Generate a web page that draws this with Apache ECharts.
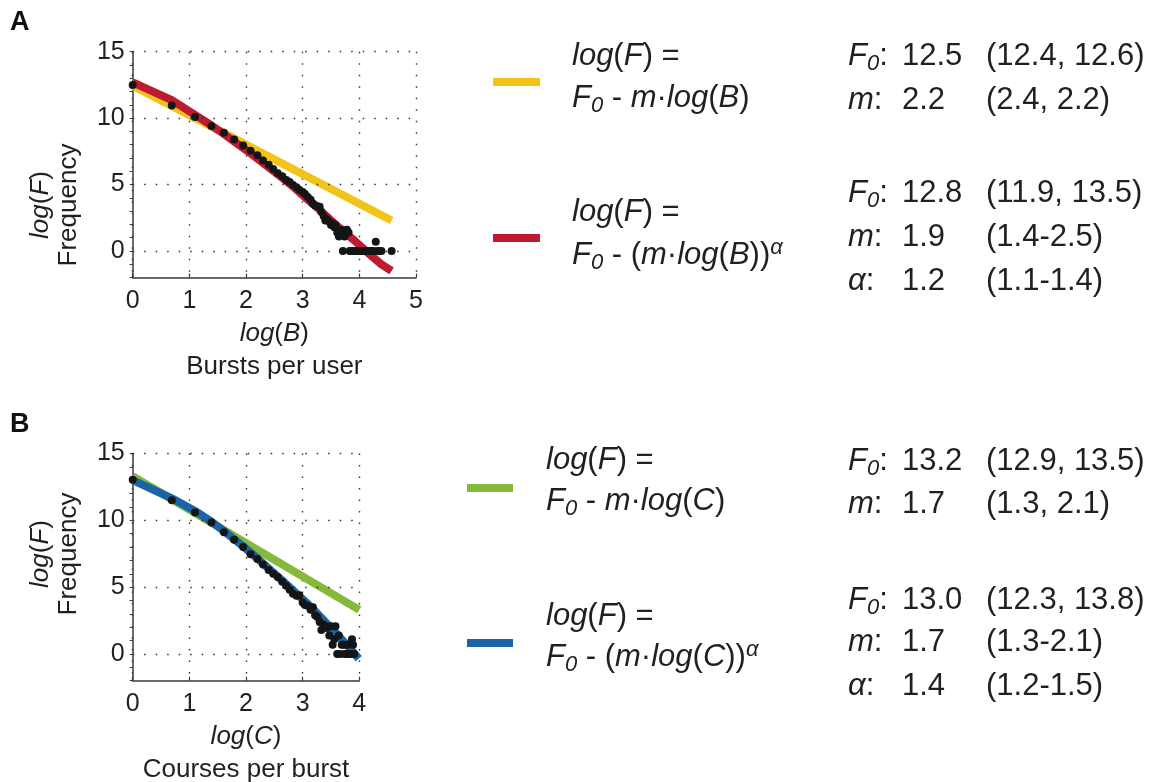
<!DOCTYPE html>
<html><head><meta charset="utf-8">
<script src="https://cdn.jsdelivr.net/npm/echarts@6/dist/echarts.min.js"></script>
<style>html,body{margin:0;padding:0;background:#fff}#c{width:1157px;height:782px}</style>
</head><body><div id="c"></div>
<script>
// ---------- Panel A data: log(B) vs log(F) ----------
const aPtX = [0, 0.69, 1.10, 1.39, 1.61, 1.79, 1.95, 2.08, 2.20, 2.30, 2.40, 2.48, 2.56, 2.64, 2.71, 2.77, 2.83, 2.89, 2.94, 3.00,
  3.04, 3.09, 3.14, 3.18, 3.22, 3.26, 3.30, 3.33, 3.37, 3.40, 3.43, 3.47, 3.50, 3.53, 3.56, 3.58, 3.61, 3.64, 3.66, 3.69,
  3.71, 3.74, 3.76, 3.78, 3.81, 3.83, 3.85, 3.87, 3.89, 3.91, 3.95, 3.97, 4.01, 4.04, 4.06, 4.09, 4.13, 4.16, 4.19, 4.22,
  4.25, 4.29, 4.32, 4.36, 4.39, 4.57];
const aPtY = [12.49, 10.96, 10.08, 9.41, 8.90, 8.40, 7.95, 7.55, 7.20, 6.82, 6.49, 6.17, 5.85, 5.62, 5.35, 5.20, 4.97, 4.80, 4.62, 4.44,
  4.30, 4.06, 3.85, 3.58, 3.43, 3.37, 3.33, 2.94, 2.64, 2.30, 2.40, 2.20, 1.95, 2.08, 1.79, 1.95, 1.39, 1.10, 1.39, 1.61,
  0, 1.10, 1.39, 1.61, 1.39, 0, 0, 0, 0, 0, 0, 0, 0, 0, 0, 0, 0, 0, 0, 0,
  0, 0.69, 0, 0, 0, 0];
const aLinX = [0, 4.57];
const aLinY = [12.45, 2.3];
const aPowX = [0, 0.69, 1.10, 1.39, 1.61, 1.79, 1.95, 2.08, 2.20, 2.40, 2.64, 2.83, 3.00, 3.22, 3.40, 3.58, 3.71, 3.91, 4.09, 4.25, 4.39, 4.57];
const aPowY = [12.7, 11.35, 10.25, 9.45, 8.8, 8.25, 7.75, 7.35, 6.95, 6.3, 5.5, 4.85, 4.2, 3.4, 2.7, 2.0, 1.5, 0.8, 0.1, -0.5, -1.0, -1.5];
const aXTicks = [0, 1, 2, 3, 4, 5];

// ---------- Panel B data: log(C) vs log(F) ----------
const bPtX = [0, 0.69, 1.10, 1.39, 1.61, 1.79, 1.95, 2.08, 2.20, 2.30, 2.40, 2.48, 2.56, 2.64, 2.71, 2.77, 2.83, 2.89, 2.94, 3.00,
  3.04, 3.09, 3.14, 3.18, 3.22, 3.26, 3.30, 3.33, 3.37, 3.40, 3.43, 3.47, 3.50, 3.53, 3.56, 3.58, 3.61, 3.64, 3.66, 3.69,
  3.71, 3.74, 3.76, 3.78, 3.81, 3.83, 3.85, 3.87, 3.89, 3.91, 4.01];
const bPtY = [13.03, 11.50, 10.58, 9.84, 9.11, 8.54, 8.00, 7.47, 7.10, 6.70, 6.28, 6.00, 5.75, 5.40, 5.10, 4.80, 4.50, 4.35, 4.40, 3.85,
  3.66, 3.60, 3.30, 3.50, 2.90, 2.77, 2.40, 1.79, 2.20, 2.08, 1.95, 1.39, 2.08, 0.69, 1.10, 2.08, 0, 1.39, 0, 0.69,
  0.69, 0, 0.69, 0, 0.69, 0, 0, 1.10, 0.69, 0, 0];
const bLinX = [0, 4.0];
const bLinY = [13.3, 3.3];
const bPowX = [0, 0.69, 1.10, 1.39, 1.61, 1.79, 1.95, 2.20, 2.40, 2.64, 2.83, 3.00, 3.22, 3.40, 3.58, 3.71, 3.85, 3.99];
const bPowY = [13.0, 11.65, 10.7, 9.9, 9.2, 8.6, 8.05, 7.15, 6.4, 5.5, 4.75, 4.1, 3.2, 2.4, 1.6, 1.0, 0.35, -0.35];
const bXTicks = [0, 1, 2, 3, 4];

const yGridVals = [0, 5, 10, 15];

// ---------- text ----------
const FONT = "'Liberation Sans', Arial, Helvetica, sans-serif";
const INK = '#231f20';
const C_YEL = '#f2c318', C_RED = '#c01a32', C_GRN = '#86b83b', C_BLU = '#1b65a6';

function zip(xs, ys) { return xs.map((x, i) => [x, ys[i]]); }

function gRich(fs) {
  const lh = Math.round(fs * 1.2);
  return {
    n: {fontSize: fs, fontFamily: FONT, fill: INK, lineHeight: lh},
    i: {fontSize: fs, fontFamily: FONT, fontStyle: 'italic', fill: INK, lineHeight: lh},
    s: {fontSize: Math.round(fs * 0.7), fontFamily: FONT, fontStyle: 'italic', fill: INK, lineHeight: Math.round(fs * 0.55), verticalAlign: 'bottom'},
    p: {fontSize: Math.round(fs * 0.72), fontFamily: FONT, fontStyle: 'italic', fill: INK, lineHeight: Math.round(fs * 0.3), verticalAlign: 'top'}
  };
}
function lRich(fs, lh) {
  return {
    n: {fontSize: fs, fontFamily: FONT, color: INK, lineHeight: lh},
    i: {fontSize: fs, fontFamily: FONT, fontStyle: 'italic', color: INK, lineHeight: lh}
  };
}
const LF = 31;
function txt(x, y, text, fs, extra) {
  return Object.assign({type: 'text', x: x, y: y, silent: true,
    style: {text: text, rich: gRich(fs || LF), align: 'left', verticalAlign: 'middle', fill: INK, fontFamily: FONT, fontSize: fs || LF}}, extra || {});
}
function swatch(x, y, w, color) {
  return {type: 'rect', silent: true, shape: {x: x, y: y - 4, width: w, height: 8}, style: {fill: color}};
}

const legLines = {
  logF: '{i|log}{n|(}{i|F}{n|) =}',
  linB: '{i|F}{s|0}{n| - }{i|m}{n|·}{i|log}{n|(}{i|B}{n|)}',
  powB: '{i|F}{s|0}{n| - (}{i|m}{n|·}{i|log}{n|(}{i|B}{n|))}{p|α}',
  linC: '{i|F}{s|0}{n| - }{i|m}{n|·}{i|log}{n|(}{i|C}{n|)}',
  powC: '{i|F}{s|0}{n| - (}{i|m}{n|·}{i|log}{n|(}{i|C}{n|))}{p|α}'
};
const labF0 = '{i|F}{s|0}{n|:}', labM = '{i|m}{n|:}', labA = '{i|α}{n|:}';

const colL = 848, colV = 902, colI = 986;
const yTitleRich = {n: {fontSize: 26, fontFamily: FONT, fill: INK, lineHeight: 28}, i: {fontSize: 26, fontFamily: FONT, fontStyle: 'italic', fill: INK, lineHeight: 28}};
const graphics = [
  {type: 'text', x: 10, y: 23, silent: true, style: {text: 'A', fontFamily: FONT, fontWeight: 'bold', fontSize: 27, fill: '#111', verticalAlign: 'middle'}},
  {type: 'text', x: 10, y: 425, silent: true, style: {text: 'B', fontFamily: FONT, fontWeight: 'bold', fontSize: 27, fill: '#111', verticalAlign: 'middle'}},
  {type: 'text', x: 55, y: 205, rotation: Math.PI / 2, silent: true,
    style: {text: '{i|log}{n|(}{i|F}{n|)}\n{n|Frequency}', align: 'center', verticalAlign: 'middle', rich: yTitleRich}},
  {type: 'text', x: 55, y: 554, rotation: Math.PI / 2, silent: true,
    style: {text: '{i|log}{n|(}{i|F}{n|)}\n{n|Frequency}', align: 'center', verticalAlign: 'middle', rich: yTitleRich}},
  // Panel A legend
  swatch(493, 82, 47, C_YEL),
  txt(572, 56, legLines.logF), txt(572, 98, legLines.linB),
  swatch(493, 238, 47, C_RED),
  txt(572, 212, legLines.logF), txt(572, 255, legLines.powB),
  txt(colL, 56, labF0), txt(colV, 56, '{n|12.5}'), txt(colI, 56, '{n|(12.4, 12.6)}'),
  txt(colL, 100, labM), txt(colV, 100, '{n|2.2}'), txt(colI, 100, '{n|(2.4, 2.2)}'),
  txt(colL, 193, labF0), txt(colV, 193, '{n|12.8}'), txt(colI, 193, '{n|(11.9, 13.5)}'),
  txt(colL, 237, labM), txt(colV, 237, '{n|1.9}'), txt(colI, 237, '{n|(1.4-2.5)}'),
  txt(colL, 281, labA), txt(colV, 281, '{n|1.2}'), txt(colI, 281, '{n|(1.1-1.4)}'),
  // Panel B legend
  swatch(467, 488, 46, C_GRN),
  txt(546, 460, legLines.logF), txt(546, 501, legLines.linC),
  swatch(467, 643, 46, C_BLU),
  txt(546, 616, legLines.logF), txt(546, 657, legLines.powC),
  txt(colL, 461, labF0), txt(colV, 461, '{n|13.2}'), txt(colI, 461, '{n|(12.9, 13.5)}'),
  txt(colL, 504, labM), txt(colV, 504, '{n|1.7}'), txt(colI, 504, '{n|(1.3, 2.1)}'),
  txt(colL, 600, labF0), txt(colV, 600, '{n|13.0}'), txt(colI, 600, '{n|(12.3, 13.8)}'),
  txt(colL, 642, labM), txt(colV, 642, '{n|1.7}'), txt(colI, 642, '{n|(1.3-2.1)}'),
  txt(colL, 686, labA), txt(colV, 686, '{n|1.4}'), txt(colI, 686, '{n|(1.2-1.5)}')
];

const dotted = {color: '#333', width: 1.4, type: [1.5, 10]};
function xAxisOf(idx, max, nameText) {
  return {
    type: 'value', gridIndex: idx, min: 0, max: max, interval: 1,
    axisLine: {show: true, onZero: false, lineStyle: {color: '#3a3a3a', width: 1.5}},
    axisTick: {show: true, inside: true, length: 4, lineStyle: {color: '#3a3a3a', width: 1.2}},
    axisLabel: {fontSize: 25, fontFamily: FONT, color: INK, margin: 11,
      formatter: v => (idx === 0 ? aXTicks : bXTicks).indexOf(v) >= 0 ? String(v) : ''},
    splitLine: {show: true, lineStyle: dotted},
    name: nameText, nameLocation: 'middle', nameGap: 40,
    nameTextStyle: {rich: lRich(26, 33), fontSize: 26, fontFamily: FONT, color: INK, lineHeight: 33, align: 'center'}
  };
}
function yAxisOf(idx) {
  return {
    type: 'value', gridIndex: idx, min: -2, max: 15, interval: 1,
    axisLine: {show: true, onZero: false, lineStyle: {color: '#3a3a3a', width: 1.5}},
    axisTick: {show: true, inside: false, length: 3, lineStyle: {color: '#3a3a3a', width: 1}},
    axisLabel: {fontSize: 25, fontFamily: FONT, color: INK, margin: 8,
      formatter: v => yGridVals.indexOf(v) >= 0 ? String(v) : ''},
    splitLine: {show: false}
  };
}
function gridMark(vals) {
  return {silent: true, symbol: ['none', 'none'], label: {show: false}, animation: false,
    lineStyle: dotted, emphasis: {disabled: true}, data: vals.map(v => ({yAxis: v}))};
}
function lineSeries(idx, xs, ys, color, z, withGrid) {
  const s = {type: 'line', xAxisIndex: idx, yAxisIndex: idx, data: zip(xs, ys), showSymbol: false, symbol: 'none',
    lineStyle: {color: color, width: 8, cap: 'butt', join: 'round', opacity: 1}, z: z, silent: true, animation: false};
  if (withGrid) s.markLine = gridMark(yGridVals);
  return s;
}
function dotSeries(idx, xs, ys) {
  return {type: 'scatter', xAxisIndex: idx, yAxisIndex: idx, data: zip(xs, ys), symbol: 'circle', symbolSize: 8,
    itemStyle: {color: '#151515', opacity: 1}, z: 5, silent: true, animation: false};
}

const option = {
  animation: false,
  backgroundColor: '#ffffff',
  grid: [
    {left: 132.7, top: 51.7, width: 283.3, height: 225.9, outerBoundsMode: 'none', containLabel: false},
    {left: 132.7, top: 453.5, width: 226.6, height: 227.2, outerBoundsMode: 'none', containLabel: false}
  ],
  xAxis: [
    xAxisOf(0, 5, '{i|log}{n|(}{i|B}{n|)}\n{n|Bursts per user}'),
    xAxisOf(1, 4, '{i|log}{n|(}{i|C}{n|)}\n{n|Courses per burst}')
  ],
  yAxis: [yAxisOf(0), yAxisOf(1)],
  series: [
    lineSeries(0, aLinX, aLinY, C_YEL, 2, true),
    lineSeries(0, aPowX, aPowY, C_RED, 3, false),
    dotSeries(0, aPtX, aPtY),
    lineSeries(1, bLinX, bLinY, C_GRN, 2, true),
    lineSeries(1, bPowX, bPowY, C_BLU, 3, false),
    dotSeries(1, bPtX, bPtY)
  ],
  graphic: graphics
};
const chart = echarts.init(document.getElementById('c'), null, {renderer: 'canvas'});
chart.setOption(option);
</script>
</body></html>
